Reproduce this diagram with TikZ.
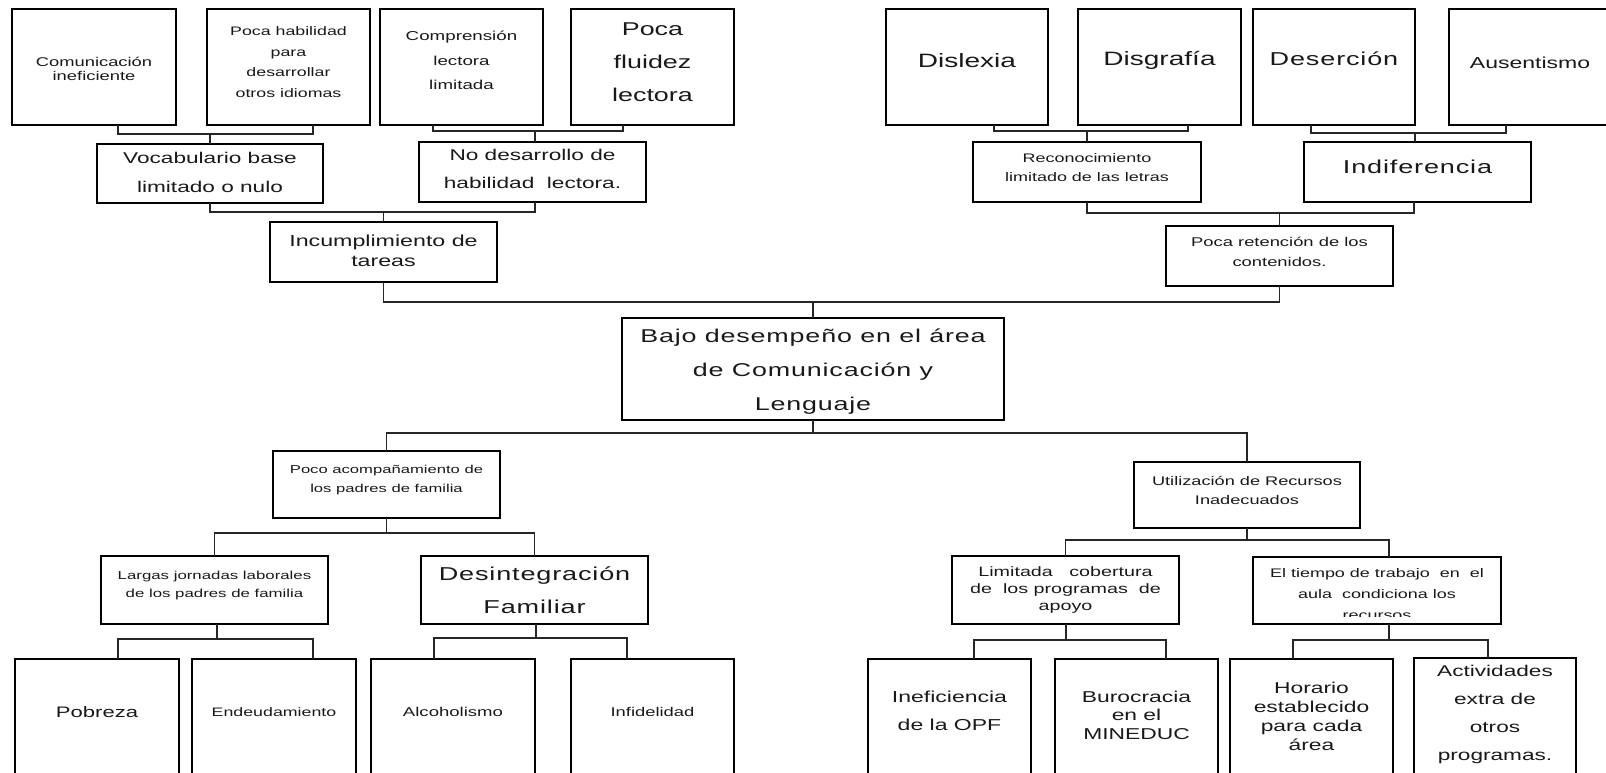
\documentclass[tikz,border=0pt]{standalone}
\usepackage{fontspec}
\setmainfont{Liberation Sans}[FakeStretch=1.45]
\newfontfamily\spacedfont{Liberation Sans}[FakeStretch=1.45,LetterSpace=4.5]
\usetikzlibrary{calc}
\tikzset{
  box/.style={draw=black, line width=1pt, inner sep=0pt, outer sep=0pt, rectangle},
  lab/.style={inner sep=0pt, align=center, text=black!90},
  fs/.style 2 args={font=\fontsize{#1}{#2}\selectfont},
  sfs/.style 2 args={font=\spacedfont\fontsize{#1}{#2}\selectfont},
  con/.style={line width=1pt, draw=black!85}
}
\newcommand\drawbox[8]{%
  \node[box, minimum width={(#4-#2)*0.75pt}, minimum height={(#5-#3)*0.75pt}] (#1) at ({(#2+#4)/2},{(#3+#5)/2}) {};
  \node[lab, #7] (#1-t) at ({(#2+#4)/2},#6) {#8};
}
\begin{document}
\begin{tikzpicture}[x=0.75pt,y=-0.75pt]
\useasboundingbox (0,0) rectangle (1606,772);
\clip (0,0) rectangle (1606,772);
% top row, left
\drawbox{cI}{12}{9}{176}{125}{69}{fs={9.5}{10.5}}{Comunicación\\ineficiente}
\drawbox{pH}{207}{9}{370}{125}{62}{fs={9.2}{15.5}}{Poca habilidad\\para\\desarrollar\\otros idiomas}
\drawbox{cL}{380}{9}{543}{125}{60.5}{fs={9.7}{18.4}}{Comprensión\\lectora\\limitada}
\drawbox{pF}{571}{9}{734}{125}{62}{fs={13.9}{24.75}}{Poca\\fluidez\\lectora}
% top row, right
\drawbox{dX}{886}{9}{1048}{125}{61}{fs={14.5}{17}}{Dislexia}
\drawbox{dG}{1078}{9}{1241}{125}{60}{fs={14.5}{17}}{Disgrafía}
\drawbox{dS}{1253}{9}{1415}{125}{59}{sfs={14}{17}}{Deserción}
\node[box, minimum width={162*0.75pt}, minimum height={116*0.75pt}] (aU) at (1530,67) {};
\node[lab, fs={11.9}{14}] (aU-t) at (1530,63) {Ausentismo};
% second level
\drawbox{vB}{97}{144}{323}{203}{172.5}{fs={11.7}{21.75}}{Vocabulario base\\limitado o nulo}
\drawbox{nD}{419}{142}{646}{202}{169}{fs={11.7}{21}}{No desarrollo de\\habilidad\ \ lectora.}
\drawbox{rL}{973}{142}{1201}{202}{167.5}{fs={9.3}{14.25}}{Reconocimiento\\limitado de las letras}
\drawbox{iD}{1304}{142}{1531}{202}{167}{sfs={14}{17}}{Indiferencia}
% third level
\drawbox{iT}{270}{222}{497}{282}{251}{fs={12}{15}}{Incumplimiento de\\tareas}
\drawbox{pR}{1166}{226}{1393}{286}{252}{fs={9.5}{15}}{Poca retención de los\\contenidos.}
% central problem
\drawbox{bD}{622}{318}{1004}{420}{372}{sfs={13.9}{25.5}}{Bajo desempeño en el área\\de Comunicación y\\Lenguaje}
% effects
\drawbox{pA}{273}{451}{500}{518}{480.5}{fs={8.6}{14.25}}{Poco acompañamiento de\\los padres de familia}
\drawbox{uR}{1134}{462}{1360}{528}{490.5}{fs={9.4}{14.25}}{Utilización de Recursos\\Inadecuados}
\drawbox{lJ}{101}{556}{328}{624}{585}{fs={8.7}{13.5}}{Largas jornadas laborales\\de los padres de familia}
\drawbox{dF}{421}{556}{648}{624}{590.5}{sfs={14}{24.75}}{Desintegración\\Familiar}
\drawbox{lC}{952}{556}{1179}{624}{590}{fs={10.2}{12.75}}{Limitada\ \ \ cobertura\\de\ \ los programas\ \ de\\apoyo}
\node[box, minimum width={248*0.75pt}, minimum height={67*0.75pt}] (eT) at (1377,590.5) {};
\begin{scope}
\clip (1253,557) rectangle (1501,616.5);
\node[lab, fs={9.3}{15.75}] (eT-t) at (1377,594.5) {El tiempo de trabajo\ \ en\ \ el\\aula\ \ condiciona los\\recursos};
\end{scope}
% bottom row
\drawbox{pO}{15}{659}{179}{785}{712}{fs={11.4}{14}}{Pobreza}
\drawbox{eN}{192}{659}{356}{785}{712}{fs={9.2}{12}}{Endeudamiento}
\drawbox{aL}{371}{659}{535}{785}{712}{fs={9.6}{12}}{Alcoholismo}
\drawbox{iF}{571}{659}{734}{785}{712}{fs={9.5}{12}}{Infidelidad}
\drawbox{iO}{868}{659}{1031}{785}{711}{fs={11.9}{21}}{Ineficiencia\\de la OPF}
\drawbox{bM}{1055}{659}{1218}{785}{715}{fs={11.8}{13.9}}{Burocracia\\en el\\MINEDUC}
\drawbox{hE}{1230}{659}{1393}{785}{716}{fs={11.8}{14.25}}{Horario\\establecido\\para cada\\área}
\drawbox{aC}{1414}{658}{1576}{785}{714}{fs={11.7}{21}}{Actividades\\extra de\\otros\\programas.}
% connectors, top left
\draw[con] ($(cI.south)+(24,0)$) -- ++(0,9) -| ($(pH.south)+(24.5,0)$);
\draw[con] (vB.north) -- ++(0,-10);
\draw[con] ($(cL.south)+(-28.5,0)$) -- ++(0,6) -| ($(pF.south)+(-29.5,0)$);
\draw[con] ($(nD.north)+(2.5,0)$) -- ++(0,-11);
\draw[con] (vB.south) -- ++(0,9) -| ($(nD.south)+(2.5,0)$);
\draw[con] (iT.north) -- ++(0,-10);
\draw[con] (iT.south) -- ++(0,20) -| (pR.south);
\draw[con] (bD.north) -- ++(0,-16);
% connectors, top right
\draw[con] ($(dX.south)+(27,0)$) -- ++(0,6) -| ($(dG.south)+(28.5,0)$);
\draw[con] (rL.north) -- ++(0,-11);
\draw[con] ($(dS.south)+(-23,0)$) -- ++(0,8) -| ($(aU.south)+(-24,0)$);
\draw[con] ($(iD.north)+(-2.5,0)$) -- ++(0,-9);
\draw[con] (rL.south) -- ++(0,11) -| ($(iD.south)+(-3.5,0)$);
\draw[con] (pR.north) -- ++(0,-13);
% connectors, bottom
\draw[con] (bD.south) -- ++(0,13);
\draw[con] (pA.north) -- ++(0,-18) -| (uR.north);
\draw[con] (pA.south) -- ++(0,15);
\draw[con] (lJ.north) -- ++(0,-23) -| (dF.north);
\draw[con] ($(lJ.south)+(2.5,0)$) -- ++(0,15);
\draw[con] ($(pO.north)+(21,0)$) -- ++(0,-20) -| ($(eN.north)+(39,0)$);
\draw[con] ($(dF.south)+(1.5,0)$) -- ++(0,14);
\draw[con] ($(aL.north)+(-19,0)$) -- ++(0,-21) -| ($(iF.north)+(-25.5,0)$);
\draw[con] (uR.south) -- ++(0,12);
\draw[con] (lC.north) -- ++(0,-16) -| ($(eT.north)+(12,0)$);
\draw[con] ($(lC.south)+(0.5,0)$) -- ++(0,16);
\draw[con] ($(iO.north)+(24.5,0)$) -- ++(0,-19) -| ($(bM.north)+(29.5,0)$);
\draw[con] ($(eT.south)+(12,0)$) -- ++(0,16);
\draw[con] ($(hE.north)+(-18.5,0)$) -- ++(0,-19) -| ($(aC.north)+(-7,0)$);
\end{tikzpicture}
\end{document}
